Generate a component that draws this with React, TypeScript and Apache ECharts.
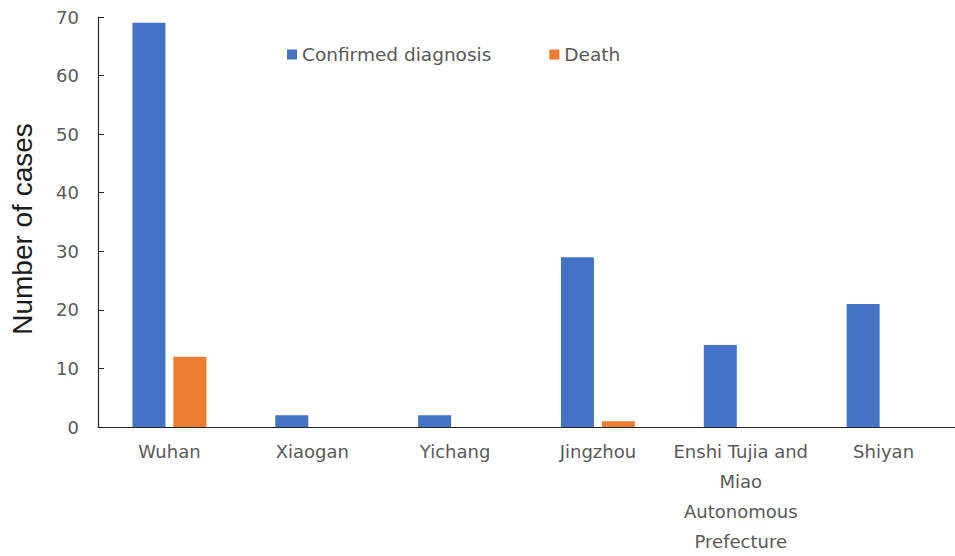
import React, { useEffect, useRef } from "react";
import * as echarts from "echarts";

const categories = [
  "Wuhan",
  "Xiaogan",
  "Yichang",
  "Jingzhou",
  "Enshi Tujia and\nMiao\nAutonomous\nPrefecture",
  "Shiyan",
];
const confirmed = [69, 2, 2, 29, 14, 21];
const deaths = [12, 0, 0, 1, 0, 0];

const FONT = "DejaVu Sans";

export default function App() {
  const ref = useRef<HTMLDivElement>(null);
  useEffect(() => {
    if (!ref.current) return;
    const chart = echarts.init(ref.current, undefined, { renderer: "svg" });
    chart.setOption({
      animation: false,
      backgroundColor: "#ffffff",
      textStyle: { fontFamily: FONT },
      legend: {
        left: 282,
        top: 40,
        icon: "rect",
        itemWidth: 10,
        itemHeight: 10,
        itemGap: 58,
        textStyle: { color: "#595959", fontSize: 18.5, fontFamily: FONT },
        data: ["Confirmed diagnosis", "Death"],
      },
      grid: { left: 98, top: 17, width: 867, height: 412, containLabel: false },
      xAxis: {
        type: "category",
        data: categories,
        axisLine: { lineStyle: { color: "#262626", width: 1.2 } },
        axisTick: { show: false },
        axisLabel: {
          interval: 0,
          color: "#595959",
          fontSize: 18,
          lineHeight: 30,
          margin: 9,
          fontFamily: FONT,
        },
      },
      yAxis: {
        type: "value",
        min: 0,
        max: 70,
        interval: 10,
        name: "Number of cases",
        nameLocation: "middle",
        nameGap: 62,
        nameTextStyle: {
          color: "#1a1a1a",
          fontSize: 28,
          fontFamily: "Liberation Sans",
          padding: [0, 14, 0, 0],
        },
        axisLine: { show: true, lineStyle: { color: "#262626", width: 1.2 } },
        axisTick: { show: true, inside: true, length: 6, lineStyle: { color: "#262626" } },
        splitLine: { show: false },
        axisLabel: { color: "#595959", fontSize: 18, margin: 19, fontFamily: FONT },
      },
      series: [
        {
          name: "Confirmed diagnosis",
          type: "bar",
          data: confirmed,
          barWidth: 33,
          barGap: "24%",
          itemStyle: { color: "#4472C4" },
        },
        {
          name: "Death",
          type: "bar",
          data: deaths,
          barWidth: 33,
          barGap: "24%",
          itemStyle: { color: "#ED7D31" },
        },
      ],
    });
    return () => chart.dispose();
  }, []);
  return (
    <div
      ref={ref}
      style={{ position: "fixed", left: 0, top: 0, width: 955, height: 556 }}
    />
  );
}
